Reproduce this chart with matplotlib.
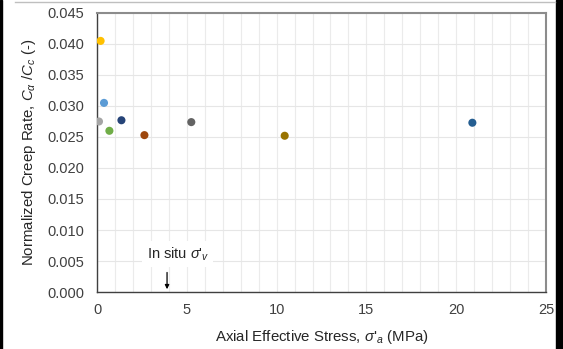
import matplotlib.pyplot as plt
from matplotlib.lines import Line2D
from matplotlib.patches import Rectangle

plt.rcParams['font.family'] = ['Liberation Sans', 'DejaVu Sans']
plt.rcParams['mathtext.fontset'] = 'custom'
plt.rcParams['mathtext.rm'] = 'Liberation Sans'
plt.rcParams['mathtext.it'] = 'Liberation Sans:italic'

# data
stress = [0.2, 0.39, 0.11, 0.69, 1.36, 2.64, 5.25, 10.45, 20.9]
creep = [0.0405, 0.0305, 0.0275, 0.0260, 0.0277, 0.0253, 0.0274, 0.0252, 0.0273]
colors = ["#FFC000", "#5B9BD5", "#A5A5A5", "#70AD47", "#264478",
          "#9E480E", "#636363", "#997300", "#255E91"]
insitu_x = 3.9

fig = plt.figure(figsize=(5.63, 3.49), dpi=100)
ax = fig.add_axes([0.1723, 0.1633, 0.7975, 0.7995])

ax.scatter(stress, creep, s=34, c=colors, zorder=3, edgecolors="none")

ax.set_xlim(0, 25)
ax.set_ylim(0, 0.045)
ax.set_xticks(range(0, 26, 5))
ax.set_yticks([i * 0.005 for i in range(10)])
ax.set_yticklabels([f"{i * 0.005:.3f}" for i in range(10)])
ax.set_xticks(range(0, 26), minor=True)
ax.tick_params(which="both", length=0, labelsize=10.5, colors="#404040", pad=9)
ax.tick_params(axis="x", pad=8)
ax.grid(True, which="both", axis="x", color="#EBEBEB", lw=0.8)
ax.grid(True, which="major", axis="y", color="#E6E6E6", lw=0.8)
ax.set_axisbelow(True)

for s in ["top", "right"]:
    ax.spines[s].set_color("#8C8C8C")
    ax.spines[s].set_linewidth(1.5)
for s in ["left", "bottom"]:
    ax.spines[s].set_color("#404040")
    ax.spines[s].set_linewidth(1.0)

ax.set_xlabel(r"Axial Effective Stress, $\it{\sigma}$'$_a$ (MPa)", fontsize=10.8,
              color="#262626", labelpad=8)
ax.set_ylabel(r"Normalized Creep Rate, $C_\alpha$ /$C_c$ (-)", fontsize=10.8,
              color="#262626", labelpad=7)

# in situ marker
ax.annotate("", xy=(insitu_x, 0.0), xytext=(insitu_x, 0.0036),
            arrowprops=dict(arrowstyle="-|>", color="black", lw=0.9,
                            mutation_scale=6))
ax.text(insitu_x + 0.6, 0.0061, r"In situ $\it{\sigma}$'$_v$", fontsize=10.5,
        ha="center", va="center", color="#262626",
        bbox=dict(facecolor="white", edgecolor="none", pad=3))

# page edges
fig.add_artist(Line2D([15 / 563, 555 / 563], [1 - 2 / 349, 1 - 2 / 349],
                      color="#BFBFBF", lw=1))
fig.add_artist(Rectangle((0, 0), 2 / 563, 1, color="black"))
fig.add_artist(Rectangle((556 / 563, 0), 7 / 563, 1, color="black"))

fig.savefig("out.png", dpi=100)
